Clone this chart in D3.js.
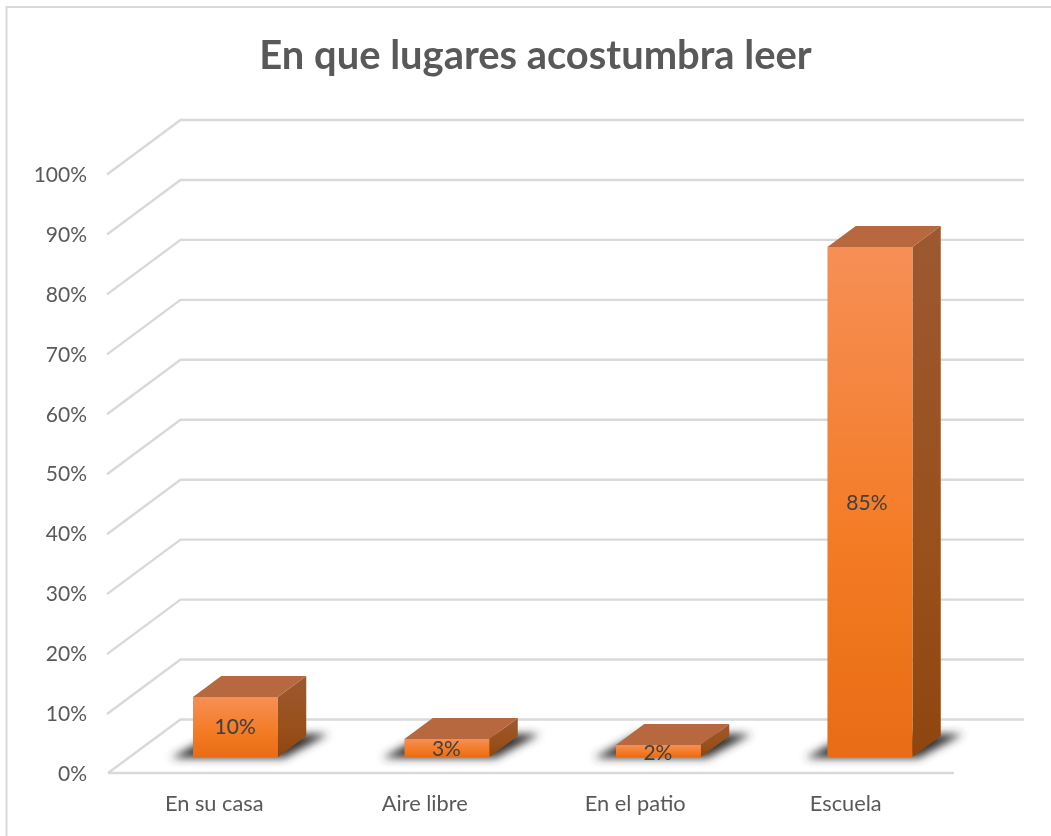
<!DOCTYPE html>
<html><head><meta charset="utf-8">
<script src="https://cdn.jsdelivr.net/npm/d3@7/dist/d3.min.js"></script>
<style>html,body{margin:0;padding:0;background:#fff}svg{display:block;filter:blur(0.45px)}text{font-family:Lato,"Open Sans",sans-serif;fill:#595959}</style>
</head><body><div id="chart"></div>
<script>
const categories = ["En su casa","Aire libre","En el patio","Escuela"];
const values = [10,3,2,85];
const valueLabels = ["10%","3%","2%","85%"];
const yTicks = [0,10,20,30,40,50,60,70,80,90,100];
const chartTitle = "En que lugares acostumbra leer";

const W=1051,H=836;
const svg=d3.select("#chart").append("svg").attr("width",W).attr("height",H);
const defs=svg.append("defs");
const vGrad=(id,a,b,c)=>{const g=defs.append("linearGradient").attr("id",id)
  .attr("x1",0).attr("x2",0).attr("y1",0).attr("y2",1);
  g.append("stop").attr("offset",0).attr("stop-color",a);
  g.append("stop").attr("offset",.62).attr("stop-color",b);
  g.append("stop").attr("offset",1).attr("stop-color",c);};
vGrad("front","#f68f56","#f37a22","#e86c15");
vGrad("side","#9c5830","#99501a","#8e4510");
defs.append("filter").attr("id","blur").attr("x","-30%").attr("y","-80%").attr("width","160%").attr("height","260%")
  .append("feGaussianBlur").attr("stdDeviation",4.5);

svg.append("path").attr("d",`M6.5,${H} V7 H${W}`).attr("fill","none").attr("stroke","#d9d9d9").attr("stroke-width",2);

const floorLeft=108, floorRight=954, depthX=72.5, depthY=53.5;
const x=d3.scaleBand().domain(categories).range([floorLeft,floorRight]);
const xLabel=d3.scaleBand().domain(categories).range([109,951]);
const y=d3.scaleLinear().domain([0,100]).range([773,173.5]);
const h=d3.scaleLinear().domain([0,100]).range([0,600]);

const g=svg.append("g").attr("fill","none").attr("stroke","#d9d9d9").attr("stroke-width",2.4);
yTicks.forEach(t=>{
  if(t===0){
    g.append("path").attr("d",`M${floorLeft},${y(0)} H${floorRight} M${floorLeft},${y(0)} L${floorLeft+depthX},${y(0)-depthY} H1024`);
  } else {
    g.append("path").attr("d",`M${floorLeft-1},${y(t)+1} L${floorLeft+depthX},${y(t)-depthY} H1024`);
  }
});

const ax=svg.append("g").attr("transform","translate(87,1)")
  .call(d3.axisLeft(y).tickValues(yTicks).tickFormat(d=>d+"%").tickSize(0).tickPadding(0));
ax.select(".domain").remove();
ax.selectAll("text").style("font-size","21px").style("fill","#595959").style("font-family","Lato,'Open Sans',sans-serif");

const xa=svg.append("g").attr("transform","translate(0,796)")
  .call(d3.axisBottom(xLabel).tickSize(0).tickPadding(0));
xa.select(".domain").remove();
xa.selectAll("text").attr("dy","0.71em").style("font-size","21.8px").style("fill","#595959").style("font-family","Lato,'Open Sans',sans-serif");

const barW=85, barShift=21.7, dx=28.3, dy=21, base=757;
const bars=svg.append("g").selectAll("g").data(categories).join("g");
bars.each(function(c,i){
  const s=d3.select(this), v=values[i];
  const x0=x(c)+x.bandwidth()/2-barW/2+barShift, x1=x0+barW, top=base-h(v);
  s.append("path").attr("d",`M${x0-22},${base+1} H${x1+6} L${x1+dx+22},${base-dy-2} H${x0+22} Z`)
    .attr("fill","#303030").attr("filter","url(#blur)");
  s.append("path").attr("d",`M${x1},${base} L${x1+dx},${base-dy} V${top-dy} L${x1},${top} Z`).attr("fill","url(#side)");
  s.append("path").attr("d",`M${x0},${top} L${x0+dx},${top-dy} H${x1+dx} L${x1},${top} Z`).attr("fill","#b7683f");
  s.append("rect").attr("x",x0).attr("y",top).attr("width",barW).attr("height",h(v)).attr("fill","url(#front)");
  s.append("text").attr("x",x0+barW/2-(i===3?3:.5)).attr("y",i===3?(base+top)/2+8:(i===0?top+37:(i===1?top+17:top+15)))
    .attr("text-anchor","middle").style("font-size","21px").style("fill","#404040").text(valueLabels[i]);
});

svg.append("text").attr("x",535.5).attr("y",69).attr("text-anchor","middle")
  .style("font-size","39.9px").style("font-weight","700").text(chartTitle);
</script></body></html>
